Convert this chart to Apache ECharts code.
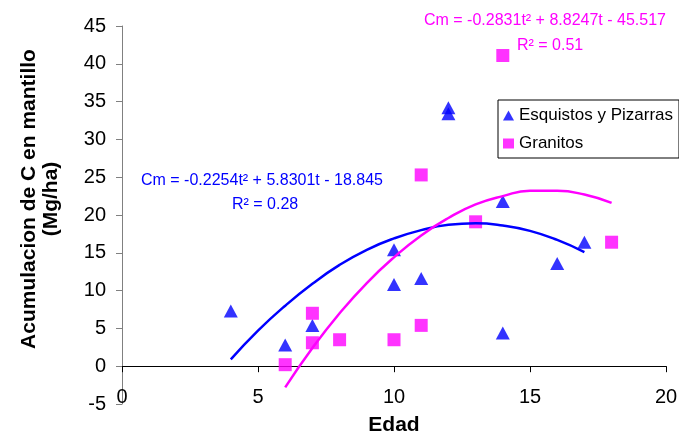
<!DOCTYPE html>
<html>
<head>
<meta charset="utf-8">
<script src="https://cdn.jsdelivr.net/npm/echarts@6/dist/echarts.min.js"></script>
<style>
html,body{margin:0;padding:0;background:#fff;}
#chart{width:679px;height:434px;}
</style>
</head>
<body>
<div id="chart"></div>
<script>
// Esquistos y Pizarras (blue triangles)
const esquistosEdad = [4, 6, 7, 10, 10, 11, 12, 12, 14, 14, 16, 17];
const esquistosCm   = [7.3, 2.8, 5.4, 15.4, 10.8, 11.6, 34.2, 33.4, 21.8, 4.4, 13.6, 16.4];
// Granitos (magenta squares)
const granitosEdad = [6, 7, 7, 8, 10, 11, 11, 13, 14, 18];
const granitosCm   = [0.2, 7.0, 3.1, 3.5, 3.5, 5.4, 25.3, 19.1, 41.1, 16.4];
// Trend curves
const esquistosTrendEdad = [4, 5, 6, 7, 8, 9, 10, 11, 12, 13, 14, 15, 16, 17];
const esquistosTrendCm   = [0.9, 4.7, 8.0, 10.9, 13.4, 15.4, 16.9, 18.0, 18.7, 18.9, 18.6, 17.9, 16.7, 15.1];
const granitosTrendEdad = [6, 7, 8, 9, 10, 11, 12, 13, 14, 15, 16, 17, 18];
const granitosTrendCm   = [-2.8, 2.4, 7.0, 11.0, 14.4, 17.3, 19.6, 21.4, 22.5, 23.2, 23.2, 22.7, 21.6];
// Axis ticks
const xTicks = [0, 5, 10, 15, 20];
const yTicks = [-5, 0, 5, 10, 15, 20, 25, 30, 35, 40, 45];
// Texts
const seriesNames = ['Esquistos y Pizarras', 'Granitos'];
const eqGranitos = ['Cm = -0.2831t\u00B2 + 8.8247t - 45.517', 'R\u00B2 = 0.51'];
const eqEsquistos = ['Cm = -0.2254t\u00B2 + 5.8301t - 18.845', 'R\u00B2 = 0.28'];
const xTitle = 'Edad';
const yTitle = ['Acumulacion de C en mantillo', '(Mg/ha)'];

const FONT = '"Liberation Sans", Arial, sans-serif';
const BLUE = '#0000FF';
const PINK = '#FF00FF';

const zip = (a, b) => a.map((v, i) => [v, b[i]]);

const chart = echarts.init(document.getElementById('chart'), null, {renderer: 'canvas'});
chart.setOption({
  animation: false,
  backgroundColor: '#ffffff',
  grid: {left: 122, top: 26, width: 544, height: 378, containLabel: false, outerBoundsMode: 'none'},
  xAxis: {
    type: 'value',
    min: xTicks[0], max: xTicks[xTicks.length - 1], interval: 5,
    name: xTitle, nameLocation: 'middle', nameGap: 11,
    nameTextStyle: {fontFamily: FONT, fontSize: 21, fontWeight: 'bold', color: '#000'},
    axisLine: {show: true, onZero: true, lineStyle: {color: '#000', width: 1}},
    axisTick: {show: true, length: 6, lineStyle: {color: '#000'}},
    axisLabel: {margin: -17, fontFamily: FONT, fontSize: 20, color: '#000'},
    splitLine: {show: false}
  },
  yAxis: {
    type: 'value',
    min: yTicks[0], max: yTicks[yTicks.length - 1], interval: 5,
    axisLine: {show: true, onZero: false, lineStyle: {color: '#808080', width: 1}},
    axisTick: {show: true, length: 6, lineStyle: {color: '#808080'}},
    axisLabel: {margin: 16, fontFamily: FONT, fontSize: 20, color: '#000'},
    splitLine: {show: false}
  },
  legend: {
    data: [
      {name: seriesNames[0], icon: 'triangle'},
      {name: seriesNames[1], icon: 'rect'}
    ],
    orient: 'vertical',
    left: 498, top: 100,
    itemWidth: 11, itemHeight: 10, itemGap: 11,
    padding: [7, 6, 6, 5],
    borderColor: '#000', borderWidth: 1, borderRadius: 0,
    backgroundColor: '#fff',
    textStyle: {fontFamily: FONT, fontSize: 17, color: '#000'},
    selectedMode: false
  },
  series: [
    {
      name: seriesNames[0], type: 'scatter', symbol: 'triangle', symbolSize: [14, 13],
      itemStyle: {color: BLUE}, data: zip(esquistosEdad, esquistosCm), z: 3
    },
    {
      name: seriesNames[1], type: 'scatter', symbol: 'rect', symbolSize: [13, 13],
      itemStyle: {color: PINK}, data: zip(granitosEdad, granitosCm), z: 3
    },
    {
      name: 'trend-esquistos', type: 'line', smooth: true, showSymbol: false, symbol: 'none',
      lineStyle: {color: BLUE, width: 2.5}, data: zip(esquistosTrendEdad, esquistosTrendCm), z: 4
    },
    {
      name: 'trend-granitos', type: 'line', smooth: true, showSymbol: false, symbol: 'none',
      lineStyle: {color: PINK, width: 2.5}, data: zip(granitosTrendEdad, granitosTrendCm), z: 4
    }
  ],
  graphic: [
    {type: 'text', x: 29, y: 199, rotation: Math.PI / 2,
     style: {text: yTitle[0], font: 'bold 21px ' + FONT, fill: '#000', align: 'center', verticalAlign: 'middle'}},
    {type: 'text', x: 51, y: 199, rotation: Math.PI / 2,
     style: {text: yTitle[1], font: 'bold 21px ' + FONT, fill: '#000', align: 'center', verticalAlign: 'middle'}},
    {type: 'text', x: 424, y: 21,
     style: {text: eqGranitos[0], font: '16px ' + FONT, fill: PINK, align: 'left', verticalAlign: 'middle'}},
    {type: 'text', x: 517, y: 46,
     style: {text: eqGranitos[1], font: '16px ' + FONT, fill: PINK, align: 'left', verticalAlign: 'middle'}},
    {type: 'text', x: 141, y: 181,
     style: {text: eqEsquistos[0], font: '16px ' + FONT, fill: BLUE, align: 'left', verticalAlign: 'middle'}},
    {type: 'text', x: 232, y: 205,
     style: {text: eqEsquistos[1], font: '16px ' + FONT, fill: BLUE, align: 'left', verticalAlign: 'middle'}}
  ]
});
</script>
</body>
</html>
